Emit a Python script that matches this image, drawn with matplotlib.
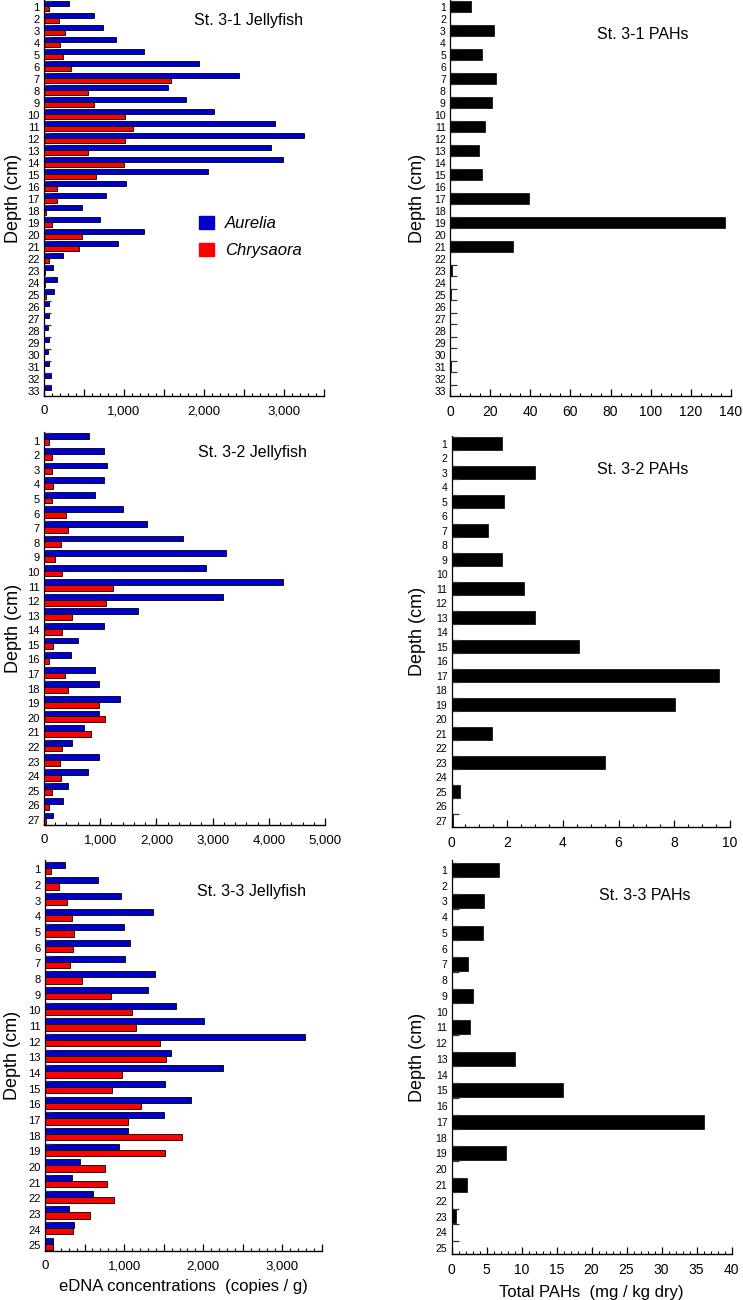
"""
Jellyfish eDNA vs total PAHs down three sediment cores (St. 3-1, 3-2, 3-3).
Left column: Aurelia / Chrysaora eDNA per depth. Right column: total PAHs.
"""

import matplotlib

matplotlib.use("Agg")
import matplotlib.pyplot as plt
import numpy as np
from matplotlib.patches import Patch
from matplotlib.ticker import FuncFormatter, MultipleLocator, FixedLocator

plt.rcParams["font.family"] = ["Liberation Sans", "DejaVu Sans"]

BLUE = "#0000cc"
RED = "#ff0000"

# ── eDNA (copies / g) ──
st31_aurelia = [310, 625, 735, 900, 1250, 1935, 2440, 1555, 1780, 2130, 2885, 3250, 2835,
                2985, 2045, 1025, 780, 480, 700, 1250, 925, 235, 115, 160, 120, 60, 65, 55,
                65, 55, 65, 85, 90]
st31_chrysaora = [60, 185, 260, 205, 235, 335, 1585, 555, 630, 1010, 1110, 1010, 550, 1005,
                  655, 165, 165, 25, 100, 480, 435, 60, 15, 8, 28, 0, 0, 0, 0, 0, 0, 0, 0]

st32_aurelia = [805, 1065, 1115, 1060, 910, 1405, 1840, 2465, 3240, 2885, 4255, 3180, 1675,
                1070, 600, 480, 910, 970, 1345, 975, 715, 495, 975, 780, 425, 340, 165]
st32_chrysaora = [90, 150, 150, 165, 135, 400, 430, 300, 200, 315, 1230, 1100, 500, 325,
                  155, 95, 365, 435, 970, 1090, 845, 325, 280, 310, 135, 90, 35]

st33_aurelia = [250, 670, 960, 1360, 1000, 1075, 1015, 1385, 1300, 1660, 2005, 3290, 1590,
                2250, 1515, 1845, 1500, 1045, 935, 440, 335, 605, 305, 370, 105]
st33_chrysaora = [75, 175, 275, 340, 365, 355, 320, 465, 830, 1100, 1150, 1455, 1525, 970,
                  850, 1210, 1045, 1725, 1515, 760, 785, 875, 570, 350, 95]

# ── Total PAHs (mg / kg dry), odd depths only ──
st31_pah_depth = list(range(1, 34, 2))
st31_pah = [10.6, 22.0, 16.1, 23.0, 20.7, 17.2, 14.2, 16.1, 39.3, 136.8, 31.5, 1.2, 0.7,
            0.2, 0.2, 0.3, 0.1]

st32_pah_depth = list(range(1, 28, 2))
st32_pah = [1.80, 3.01, 1.89, 1.31, 1.80, 2.60, 2.99, 4.59, 9.62, 8.02, 1.46, 5.52, 0.32, 0.06]

st33_pah_depth = list(range(1, 26, 2))
st33_pah = [6.76, 4.67, 4.52, 2.29, 3.10, 2.71, 9.14, 15.95, 36.05, 7.76, 2.19, 0.71, 0.14]

W, H = 743, 1300


def _rect(left, right, top, bottom):
    return [left / W, 1 - bottom / H, (right - left) / W, (bottom - top) / H]


def _comma(v, _pos):
    return f"{int(round(v)):,}" if abs(v % 1000) < 1e-6 else ""


def _style(ax, ylim, label_size):
    for side in ("top", "right"):
        ax.spines[side].set_visible(False)
    ax.spines["left"].set_linewidth(0.9)
    ax.spines["bottom"].set_linewidth(1.0)
    ax.set_ylim(*ylim)
    ax.tick_params(axis="y", which="major", length=0, pad=3, labelsize=label_size)
    ax.tick_params(axis="y", which="minor", direction="in", length=5, width=0.9,
                   color="#333333")
    ax.tick_params(axis="x", which="major", direction="in", length=5, width=0.9,
                   labelsize=9.5, pad=6.5)
    ax.tick_params(axis="x", which="minor", direction="in", length=2.5, width=0.8)
    ax.set_ylabel("Depth (cm)", fontsize=13)


def jelly_panel(fig, rect, aurelia, chrysaora, title, ylim, xmax, major, minor,
                title_xy, label_x):
    ax = fig.add_axes(rect)
    depth = np.arange(1, len(aurelia) + 1)
    ax.barh(depth - 0.3, aurelia, height=0.4, color=BLUE, edgecolor="black", linewidth=0.6)
    ax.barh(depth + 0.1, chrysaora, height=0.4, color=RED, edgecolor="black", linewidth=0.6)
    _style(ax, ylim, 8)
    ax.set_yticks(depth)
    ax.set_yticklabels([str(d) for d in depth])
    ax.yaxis.set_minor_locator(FixedLocator(depth - 0.5))
    ax.set_xlim(0, xmax)
    ax.xaxis.set_major_locator(MultipleLocator(major))
    ax.xaxis.set_minor_locator(MultipleLocator(minor))
    ax.xaxis.set_major_formatter(FuncFormatter(_comma))
    ax.yaxis.set_label_coords(label_x, 0.5)
    ax.text(*title_xy, title, transform=ax.transAxes, ha="center", va="center", fontsize=11.5)
    return ax


def pah_panel(fig, rect, depth, pah, title, ylim, xmax, major, minor, title_xy, label_x):
    ax = fig.add_axes(rect)
    depth = np.asarray(depth)
    n_max = int(round(ylim[0]))
    ax.barh(depth - 0.01, pah, height=0.9, color="black", edgecolor="black", linewidth=0.5)
    _style(ax, ylim, 7.5)
    ax.set_yticks(np.arange(1, n_max + 1))
    ax.set_yticklabels([str(d) for d in range(1, n_max + 1)])
    ax.yaxis.set_minor_locator(FixedLocator(np.concatenate([depth - 0.47, depth + 0.45])))
    ax.set_xlim(0, xmax)
    ax.xaxis.set_major_locator(MultipleLocator(major))
    ax.xaxis.set_minor_locator(MultipleLocator(minor))
    ax.tick_params(axis="x", labelsize=10)
    ax.yaxis.set_label_coords(label_x, 0.5)
    ax.text(*title_xy, title, transform=ax.transAxes, ha="center", va="center", fontsize=11.5)
    return ax


def main():
    fig = plt.figure(figsize=(W / 100, H / 100), dpi=100)

    ax1 = jelly_panel(fig, _rect(44, 324, 0, 396), st31_aurelia, st31_chrysaora,
                      "St. 3-1 Jellyfish", (33.42, 0.42), 3500, 500, 100, (0.73, 0.947), -0.08)
    ax1.legend(handles=[Patch(facecolor=BLUE, edgecolor=BLUE, label="Aurelia"),
                        Patch(facecolor=RED, edgecolor=RED, label="Chrysaora")],
               loc="upper left", bbox_to_anchor=(0.555, 0.455), frameon=False,
               handlelength=0.85, handleheight=0.85, handletextpad=0.7, labelspacing=0.7,
               borderaxespad=0, borderpad=0, prop={"style": "italic", "size": 12})

    jelly_panel(fig, _rect(44, 325, 432, 825), st32_aurelia, st32_chrysaora,
                "St. 3-2 Jellyfish", (27.35, 0.40), 5000, 1000, 200, (0.74, 0.947), -0.08)

    ax3 = jelly_panel(fig, _rect(45, 322, 860, 1251), st33_aurelia, st33_chrysaora,
                      "St. 3-3 Jellyfish", (25.36, 0.40), 3500, 500, 100, (0.745, 0.919), -0.085)
    ax3.set_xlabel("eDNA concentrations  (copies / g)", fontsize=12, labelpad=5)

    pah_panel(fig, _rect(450, 731, 0, 396), st31_pah_depth, st31_pah,
              "St. 3-1 PAHs", (33.42, 0.42), 140, 20, 5, (0.686, 0.912), -0.085)
    pah_panel(fig, _rect(451.5, 730, 436, 826.5), st32_pah_depth, st32_pah,
              "St. 3-2 PAHs", (27.39, 0.45), 10, 2, 0.5, (0.686, 0.915), -0.09)
    ax6 = pah_panel(fig, _rect(451.5, 731.5, 860, 1254), st33_pah_depth, st33_pah,
                    "St. 3-3 PAHs", (25.38, 0.37), 40, 5, 1, (0.69, 0.911), -0.09)
    ax6.set_xlabel("Total PAHs  (mg / kg dry)", fontsize=12, labelpad=6)

    fig.savefig("out.png", dpi=100, facecolor="white")
    plt.close(fig)


if __name__ == "__main__":
    main()
